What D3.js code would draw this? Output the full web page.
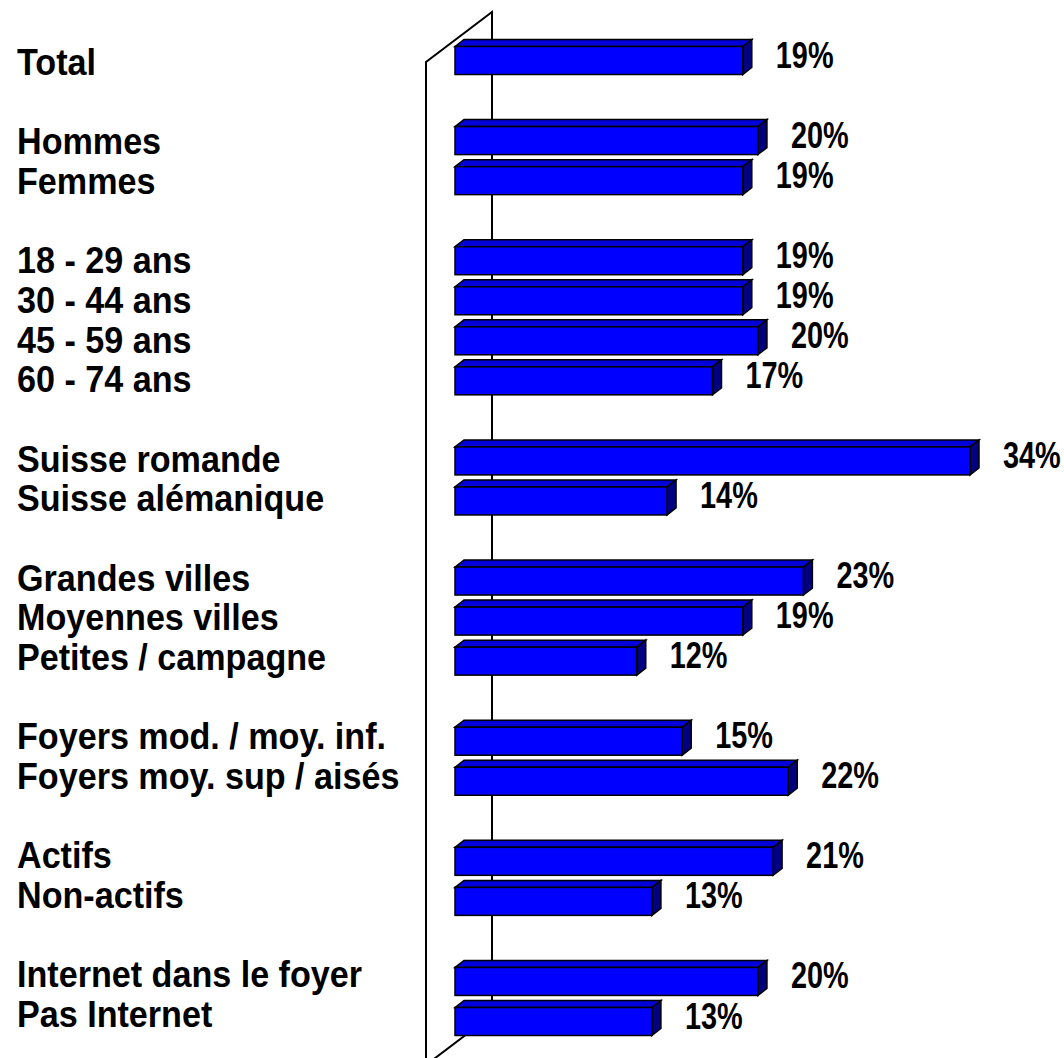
<!DOCTYPE html>
<html>
<head>
<meta charset="utf-8">
<script src="https://cdn.jsdelivr.net/npm/d3@7"></script>
<style>
  html, body { margin: 0; padding: 0; background: #fff; }
  svg { display: block; }
</style>
</head>
<body>
<script>
const categories = [
  "Total",
  "Hommes", "Femmes",
  "18 - 29 ans", "30 - 44 ans", "45 - 59 ans", "60 - 74 ans",
  "Suisse romande", "Suisse alémanique",
  "Grandes villes", "Moyennes villes", "Petites / campagne",
  "Foyers mod. / moy. inf.", "Foyers moy. sup / aisés",
  "Actifs", "Non-actifs",
  "Internet dans le foyer", "Pas Internet"
];
const groups = [0, 1, 1, 2, 2, 2, 2, 3, 3, 4, 4, 4, 5, 5, 6, 6, 7, 7];
const values = [19, 20, 19, 19, 19, 20, 17, 34, 14, 23, 19, 12, 15, 22, 21, 13, 20, 13];

const W = 1064, H = 1058;
const svg = d3.select("body").append("svg").attr("width", W).attr("height", H);

const rows = categories.map((c, i) => ({ label: c, value: values[i], row: i + groups[i] }));
const maxRow = d3.max(rows, d => d.row);

const x = d3.scaleLinear().domain([0, 34]).range([455, 970]);
const y = d3.scaleLinear().domain([0, maxRow]).range([60.5, 1021.5]);
const yLab = d3.scaleLinear().domain([0, maxRow]).range([75, 1027]);

const barH = 28, dx = 9, dy = -7;

// 3D wall frame
const frontX = 426, backX = 492, wallTop = 62, wallBottom = 1065, depthY = -50;
const frame = svg.append("g").attr("fill", "none").attr("stroke", "#000").attr("stroke-width", 2);
frame.append("path").attr("d",
  `M${frontX},${wallBottom} L${frontX},${wallTop} L${backX},${wallTop + depthY} L${backX},${wallBottom + depthY} L${frontX},${wallBottom}`);

// bars
const bars = svg.append("g").attr("stroke", "#000").attr("stroke-width", 1.5).attr("stroke-linejoin", "miter");
rows.forEach(d => {
  const x0 = x(0), x1 = x(d.value);
  const yt = y(d.row) - barH / 2, yb = y(d.row) + barH / 2;
  const g = bars.append("g");
  g.append("polygon").attr("fill", "#0000D8")
    .attr("points", [[x0, yt], [x0 + dx, yt + dy], [x1 + dx, yt + dy], [x1, yt]].map(p => p.join(",")).join(" "));
  g.append("polygon").attr("fill", "#000080")
    .attr("points", [[x1, yt], [x1 + dx, yt + dy], [x1 + dx, yb + dy], [x1, yb]].map(p => p.join(",")).join(" "));
  g.append("rect").attr("fill", "#0000FF")
    .attr("x", x0).attr("y", yt).attr("width", x1 - x0).attr("height", barH);
});

// value labels
svg.append("g").selectAll("text").data(rows).join("text")
  .attr("transform", d => `translate(${x(d.value) + dx + 24},${y(d.row) + 7}) scale(0.78,1)`)
  .attr("font-family", "'Liberation Sans', Arial, sans-serif")
  .attr("font-weight", "bold")
  .attr("font-size", 37)
  .attr("fill", "#000")
  .text(d => d.value + "%");

// category labels
svg.append("g").selectAll("text").data(rows).join("text")
  .attr("transform", d => `translate(17,${yLab(d.row)}) scale(0.91,1)`)
  .attr("font-family", "'Liberation Sans', Arial, sans-serif")
  .attr("font-weight", "bold")
  .attr("font-size", 37.5)
  .attr("fill", "#000")
  .text(d => d.label);
</script>
</body>
</html>
